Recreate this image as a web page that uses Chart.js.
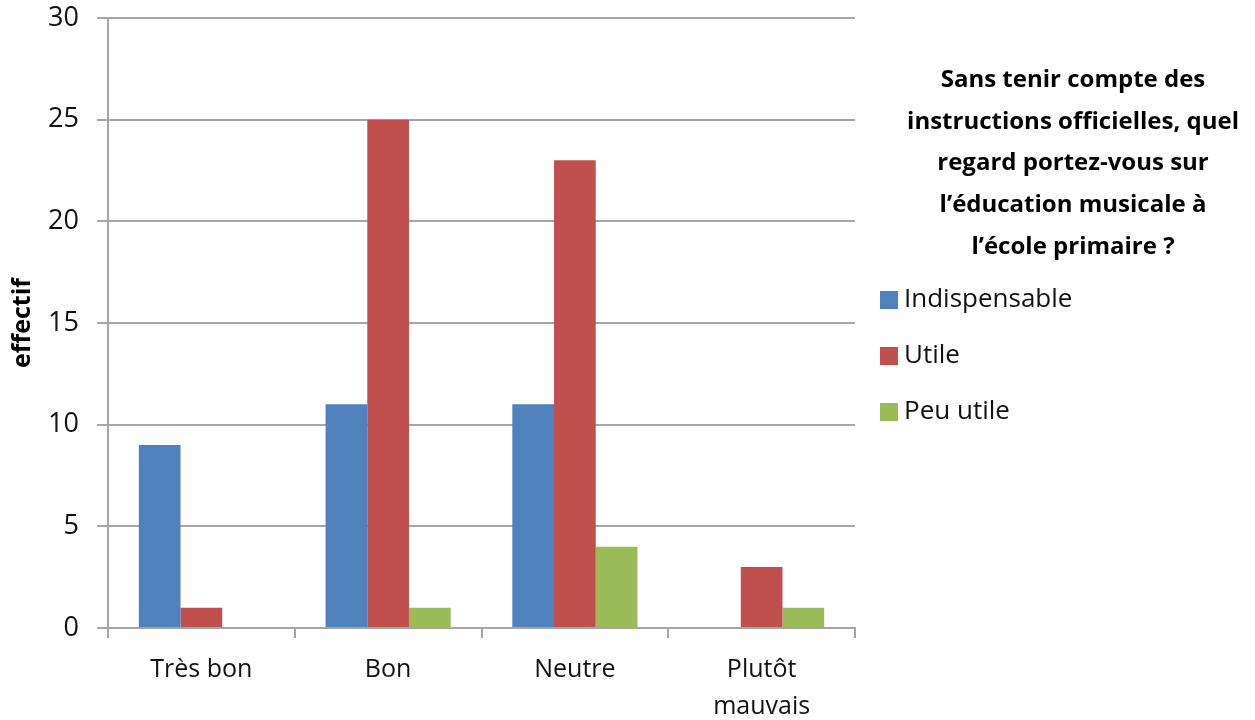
<!DOCTYPE html>
<html>
<head>
<meta charset="utf-8">
<script src="https://cdn.jsdelivr.net/npm/chart.js@4"></script>
<style>
  html, body { margin: 0; padding: 0; background: #fff; }
  #wrap { width: 1255px; height: 720px; }
</style>
</head>
<body>
<div id="wrap"><canvas id="chart" width="1255" height="720"></canvas></div>
<script>
const categories = ['Très bon', 'Bon', 'Neutre', ['Plutôt', 'mauvais']]
const indispensable = [9, 11, 11, 0]
const utile = [1, 25, 23, 3]
const peuUtile = [0, 1, 4, 1]
const yTicks = [0, 5, 10, 15, 20, 25, 30]
const titleLines = [
  'Sans tenir compte des',
  'instructions officielles, quel',
  'regard portez-vous sur',
  'l\u2019éducation musicale à',
  'l\u2019école primaire ?'
]

const FONT = '"Open Sans", sans-serif'
const GRID = '#a6a6a6'

const sideLegend = {
  id: 'sideLegend',
  afterDraw(chart) {
    const ctx = chart.ctx
    ctx.save()
    ctx.fillStyle = '#000'
    ctx.font = 'bold 24px ' + FONT
    ctx.textAlign = 'center'
    ctx.textBaseline = 'middle'
    titleLines.forEach((line, i) => {
      ctx.fillText(line, 1073, 80 + i * 41.7)
    })
    ctx.font = '26px ' + FONT
    ctx.textAlign = 'left'
    chart.data.datasets.forEach((ds, i) => {
      const y = 300 + i * 56
      ctx.fillStyle = ds.backgroundColor
      ctx.fillRect(880, y - 9, 18, 18)
      ctx.fillStyle = '#111'
      ctx.fillText(ds.label, 904, y)
    })
    ctx.restore()
  }
}

new Chart(document.getElementById('chart'), {
  type: 'bar',
  data: {
    labels: categories,
    datasets: [
      { label: 'Indispensable', data: indispensable, backgroundColor: '#4f81bd' },
      { label: 'Utile', data: utile, backgroundColor: '#c0504d' },
      { label: 'Peu utile', data: peuUtile, backgroundColor: '#9bbb59' }
    ]
  },
  options: {
    responsive: false,
    animation: false,
    layout: { padding: { left: 8, top: 18, right: 400, bottom: 0 } },
    datasets: {
      bar: { categoryPercentage: 0.67, barPercentage: 1 }
    },
    plugins: {
      legend: { display: false },
      tooltip: { enabled: false }
    },
    scales: {
      x: {
        grid: { display: true, drawOnChartArea: false, drawTicks: true, tickLength: 10, color: GRID, lineWidth: 2 },
        border: { color: GRID, width: 2 },
        ticks: { color: '#111', font: { family: FONT, size: 25, lineHeight: 1.5 }, padding: 13, maxRotation: 0 },
        afterFit: s => { s.height = 92; s.paddingLeft = 0; s.paddingRight = 0 }
      },
      y: {
        min: 0,
        max: 30,
        afterBuildTicks: s => { s.ticks = yTicks.map(v => ({ value: v })) },
        grid: { color: GRID, lineWidth: 2, tickLength: 11 },
        border: { color: GRID, width: 2 },
        ticks: { color: '#111', font: { family: FONT, size: 27 }, padding: 18 },
        title: { display: true, text: 'effectif', color: '#000', font: { family: FONT, size: 25, weight: 'bold' }, padding: { top: 0, bottom: 4 } },
        afterFit: s => { s.width = 100; s.paddingTop = 0; s.paddingBottom = 0 }
      }
    }
  },
  plugins: [sideLegend]
})
</script>
</body>
</html>
